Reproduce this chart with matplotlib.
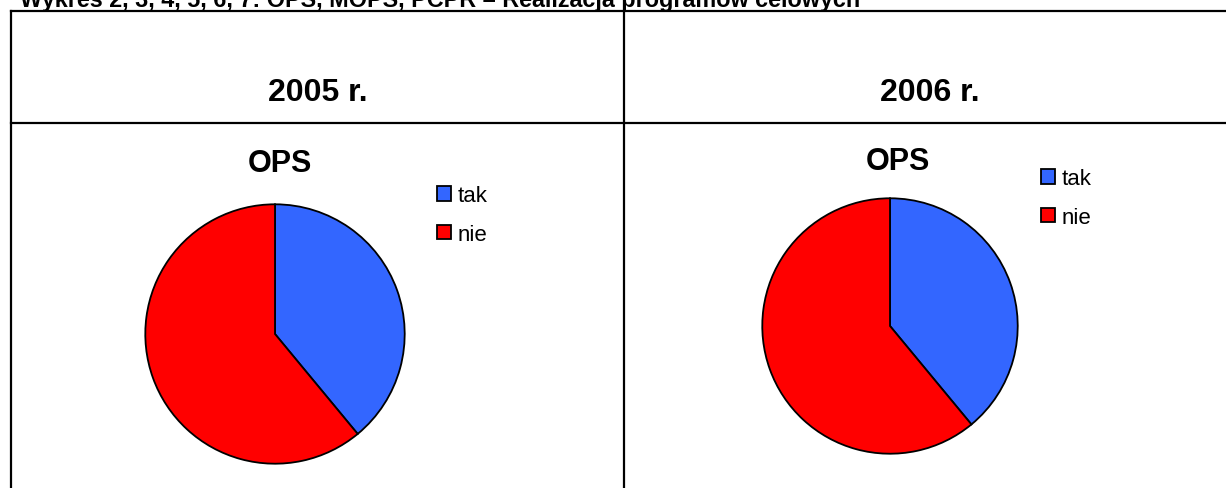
import matplotlib.pyplot as plt
from matplotlib.lines import Line2D

plt.rcParams['font.family'] = ['Liberation Sans', 'DejaVu Sans']

title = 'Wykres 2, 3, 4, 5, 6, 7: OPS, MOPS, PCPR \u2013 Realizacja programów celowych'
years = ['2005 r.', '2006 r.']
labels = ['tak', 'nie']
ops_2005 = [39, 61]
ops_2006 = [39, 61]
colors = ['#3366FF', '#FF0000']

W, H = 1226, 489


def fx(x):
    return x / W


def fy(y):
    return 1 - y / H


fig = plt.figure(figsize=(W / 100, H / 100), dpi=100)

# table grid
lw = 1.6
for x0, y0, x1, y1 in [(10.5, 12, W, 12), (10.5, 124, W, 124),
                       (10.5, 12, 10.5, H), (624, 12, 624, H)]:
    fig.add_artist(Line2D([fx(x0), fx(x1)], [fy(y0), fy(y1)], color='black', lw=lw,
                          transform=fig.transFigure, solid_capstyle='projecting'))

fig.text(fx(20), fy(7), title, fontsize=16.8, fontweight='bold', ha='left', va='baseline')
fig.text(fx(318), fy(93), years[0], fontsize=23, fontweight='bold', ha='center', va='center')
fig.text(fx(930), fy(93), years[1], fontsize=23, fontweight='bold', ha='center', va='center')

panels = [
    (ops_2005, (275, 335, 131), (280, 164), (437, 186)),
    (ops_2006, (890, 327, 129), (898, 162), (1041, 169)),
]

for values, (cx, cy, r), (tx, ty), (lx, ly) in panels:
    ax = fig.add_axes([fx(cx - r), fy(cy + r), 2 * r / W, 2 * r / H])
    wedges, _ = ax.pie(values, colors=colors, startangle=90, counterclock=False,
                       wedgeprops=dict(edgecolor='black', linewidth=1.3))
    ax.set_xlim(-1.01, 1.01)
    ax.set_ylim(-1.01, 1.01)
    ax.set_aspect('equal')
    ax.axis('off')
    fig.text(fx(tx), fy(ty), 'OPS', fontsize=22, fontweight='bold', ha='center', va='center')
    fig.legend(wedges, labels, loc='upper left', bbox_to_anchor=(fx(lx), fy(ly)),
               bbox_transform=fig.transFigure, frameon=False, fontsize=16,
               borderpad=0, borderaxespad=0, handlelength=0.64, handleheight=0.64,
               handletextpad=0.3, labelspacing=0.8)

fig.savefig('out.png', dpi=100)
